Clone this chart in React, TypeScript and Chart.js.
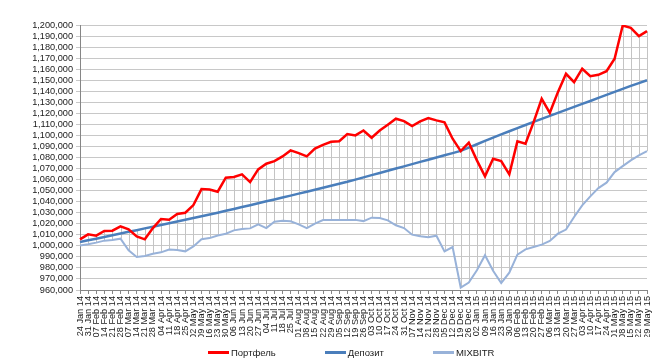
import React, { useEffect, useRef } from "react";
import { Chart, registerables } from "chart.js";

Chart.register(...registerables);

const labels = [
  "24 Jan 14", "31 Jan 14", "07 Feb 14", "14 Feb 14", "21 Feb 14", "28 Feb 14",
  "07 Mar 14", "14 Mar 14", "21 Mar 14", "28 Mar 14", "04 Apr 14", "11 Apr 14",
  "18 Apr 14", "25 Apr 14", "02 May 14", "09 May 14", "16 May 14", "23 May 14",
  "30 May 14", "06 Jun 14", "13 Jun 14", "20 Jun 14", "27 Jun 14", "04 Jul 14",
  "11 Jul 14", "18 Jul 14", "25 Jul 14", "01 Aug 14", "08 Aug 14", "15 Aug 14",
  "22 Aug 14", "29 Aug 14", "05 Sep 14", "12 Sep 14", "19 Sep 14", "26 Sep 14",
  "03 Oct 14", "10 Oct 14", "17 Oct 14", "24 Oct 14", "31 Oct 14", "07 Nov 14",
  "14 Nov 14", "21 Nov 14", "28 Nov 14", "05 Dec 14", "12 Dec 14", "19 Dec 14",
  "26 Dec 14", "02 Jan 15", "09 Jan 15", "16 Jan 15", "23 Jan 15", "30 Jan 15",
  "06 Feb 15", "13 Feb 15", "20 Feb 15", "27 Feb 15", "06 Mar 15", "13 Mar 15",
  "20 Mar 15", "27 Mar 15", "03 Apr 15", "10 Apr 15", "17 Apr 15", "24 Apr 15",
  "01 May 15", "08 May 15", "15 May 15", "22 May 15", "29 May 15",
];

const portfolio = [
  1005900, 1010400, 1009200, 1013400, 1013700, 1017600, 1014900, 1008600, 1005900, 1016100,
  1024300, 1023700, 1028800, 1030000, 1036900, 1051400, 1051000, 1049000, 1061700, 1062300,
  1064700, 1057700, 1069200, 1074400, 1076700, 1081000, 1086400, 1084000, 1081000, 1088000,
  1091500, 1094300, 1094800, 1101200, 1100000, 1104500, 1097900, 1104500, 1109700, 1115100,
  1112900, 1108400, 1112700, 1115700, 1113600, 1111800, 1097000, 1085800, 1093400, 1077400,
  1063000, 1078900, 1076700, 1064700, 1094600, 1092500, 1112000, 1133200, 1120500, 1139200,
  1155800, 1148200, 1160400, 1153700, 1154900, 1158200, 1169400, 1199500, 1197400, 1189900,
  1194400,
];

const deposit = [
  1003500, 1005000, 1006500, 1008000, 1009600, 1011100, 1012700, 1014200, 1015800, 1017300,
  1018900, 1020500, 1022000, 1023600, 1025200, 1026800, 1028400, 1030000, 1031700, 1033400,
  1035100, 1036800, 1038500, 1040300, 1042000, 1043800, 1045500, 1047300, 1049000, 1050800,
  1052600, 1054400, 1056200, 1058000, 1060000, 1062000, 1064000, 1066000, 1068000, 1070000,
  1072000, 1074000, 1076000, 1078000, 1080000, 1082000, 1084000, 1086000, 1089000, 1092000,
  1095000, 1098000, 1101000, 1103800, 1106600, 1109400, 1112200, 1115000, 1117700, 1120400,
  1123100, 1125800, 1128500, 1131200, 1134000, 1136700, 1139400, 1142100, 1144800, 1147400,
  1150000,
];

const mixbitr = [
  1000400, 1001400, 1002900, 1004700, 1005200, 1006500, 995900, 989900, 990800, 992900,
  994100, 996600, 996200, 995000, 999500, 1005900, 1007000, 1009300, 1011000, 1014000,
  1015200, 1015800, 1019500, 1016100, 1021900, 1022800, 1022200, 1019500, 1016100, 1020100,
  1023300, 1023300, 1023300, 1023300, 1023500, 1022400, 1025500, 1025200, 1023100, 1018600,
  1016100, 1010100, 1008600, 1007700, 1009200, 995000, 998900, 962200, 966800, 977800,
  991500, 977500, 966300, 975700, 992000, 996800, 998900, 1001100, 1004400, 1011000,
  1014700, 1026100, 1036700, 1044800, 1052300, 1057200, 1066800, 1072200, 1077400, 1081900,
  1085800,
];

const seriesNames = ["Портфель", "Депозит", "MIXBITR"];
const seriesColors = ["#ff0000", "#4a7ebb", "#98b2d9"];
const seriesWidths = [2.5, 2.5, 2];

const yMin = 960000;
const yMax = 1200000;
const yStep = 10000;

const FONT = "'Liberation Sans', Arial, sans-serif";

const hiLoPlugin = {
  id: "hiLoLines",
  beforeDatasetsDraw(chart: any) {
    const { ctx, scales } = chart;
    const x = scales.x;
    const y = scales.y;
    ctx.save();
    ctx.strokeStyle = "#c4c4c4";
    ctx.lineWidth = 1;
    for (let i = 0; i < labels.length; i++) {
      const vals = chart.data.datasets.map((d: any) => d.data[i]);
      const hi = Math.max(...vals);
      const lo = Math.min(...vals);
      const px = Math.round(x.getPixelForValue(i)) + 0.5;
      ctx.beginPath();
      ctx.moveTo(px, y.getPixelForValue(hi));
      ctx.lineTo(px, y.getPixelForValue(lo));
      ctx.stroke();
    }
    ctx.restore();
  },
};

export default function App() {
  const canvasRef = useRef<HTMLCanvasElement | null>(null);

  useEffect(() => {
    document.body.style.margin = "0";
    const canvas = canvasRef.current;
    if (!canvas) return;
    const values = [portfolio, deposit, mixbitr];
    const chart = new Chart(canvas, {
      type: "line",
      data: {
        labels,
        datasets: values.map((data, k) => ({
          label: seriesNames[k],
          data,
          borderColor: seriesColors[k],
          backgroundColor: seriesColors[k],
          borderWidth: seriesWidths[k],
          pointRadius: 0,
          tension: 0,
          fill: false,
        })),
      },
      options: {
        animation: false,
        responsive: true,
        maintainAspectRatio: false,
        layout: { padding: { left: 0, right: 25, top: 25, bottom: 23 } },
        plugins: {
          legend: { display: false },
          tooltip: { enabled: false },
        },
        scales: {
          x: {
            offset: false,
            grid: {
              display: true,
              drawOnChartArea: false,
              drawTicks: true,
              tickLength: 4,
              color: "#868686",
            },
            border: { display: true, color: "#868686", width: 1 },
            ticks: {
              autoSkip: false,
              maxRotation: 90,
              minRotation: 90,
              padding: 2,
              color: "#1a1a1a",
              font: { family: FONT, size: 9.2 },
            },
            afterFit: (scale: any) => {
              scale.height = 47;
            },
          },
          y: {
            min: yMin,
            max: yMax,
            grid: {
              color: "#c8c8c8",
              lineWidth: 1,
              tickLength: 4,
            },
            border: { display: true, color: "#868686", width: 1 },
            ticks: {
              stepSize: yStep,
              autoSkip: false,
              padding: 3,
              color: "#1a1a1a",
              font: { family: FONT, size: 9.2 },
              callback: (v: any) => Number(v).toLocaleString("en-US"),
            },
            afterFit: (scale: any) => {
              scale.width = 80;
            },
          },
        },
      },
      plugins: [hiLoPlugin],
    });
    return () => chart.destroy();
  }, []);

  return (
    <div style={{ position: "relative", width: 672, height: 360, background: "#fff" }}>
      <canvas ref={canvasRef} />
      <div
        style={{
          position: "absolute",
          left: 208,
          top: 346,
          display: "flex",
          gap: 49,
          alignItems: "center",
          fontFamily: FONT,
          fontSize: 9.5,
          color: "#1a1a1a",
          lineHeight: "13px",
        }}
      >
        {seriesNames.map((name, k) => (
          <div key={name} style={{ display: "flex", alignItems: "center" }}>
            <span
              style={{
                display: "inline-block",
                width: 21,
                height: 3,
                background: seriesColors[k],
                marginRight: 2,
              }}
            />
            <span>{name}</span>
          </div>
        ))}
      </div>
    </div>
  );
}
